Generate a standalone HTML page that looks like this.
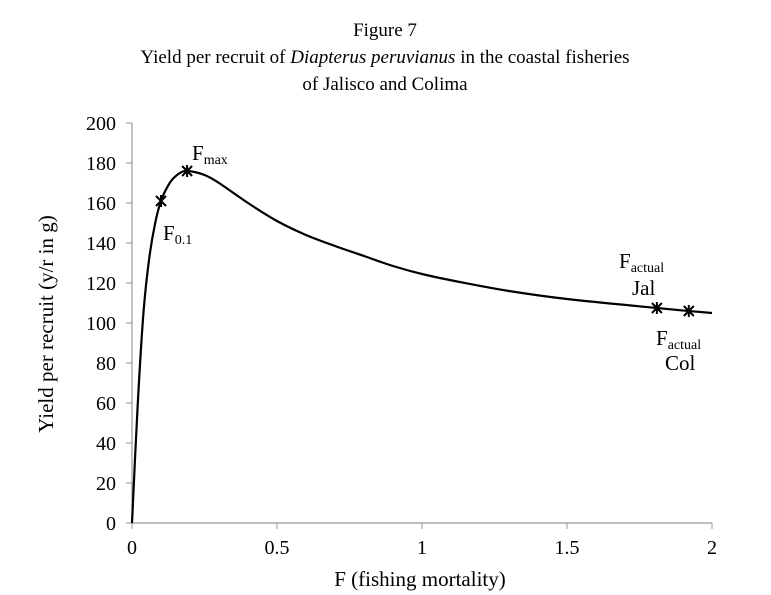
<!DOCTYPE html>
<html><head><meta charset="utf-8"><style>
body{margin:0;background:#fff;}
svg{display:block;font-family:"Liberation Serif",serif;}
</style></head><body>
<svg id="c" width="771" height="595">
<text x="385" y="36" text-anchor="middle" font-size="19">Figure 7</text>
<text x="385" y="63" text-anchor="middle" font-size="19">Yield per recruit of <tspan font-style="italic">Diapterus peruvianus</tspan> in the coastal fisheries</text>
<text x="385" y="90" text-anchor="middle" font-size="19">of Jalisco and Colima</text>
<g id="axes"></g>
<g id="series"></g>
<text x="420" y="586" text-anchor="middle" font-size="21">F (fishing mortality)</text>
<text transform="translate(53,324) rotate(-90)" text-anchor="middle" font-size="21">Yield per recruit (y/r in g)</text>
<text x="163" y="240" font-size="21">F<tspan font-size="14" dy="4">0.1</tspan></text>
<text x="192" y="160" font-size="21">F<tspan font-size="14" dy="4">max</tspan></text>
<text x="619" y="268" font-size="21">F<tspan font-size="14" dy="4">actual</tspan></text>
<text x="632" y="295" font-size="21">Jal</text>
<text x="656" y="345" font-size="21">F<tspan font-size="14" dy="4">actual</tspan></text>
<text x="665" y="370" font-size="21">Col</text>
</svg>
<script>
const xTicks=[0,0.5,1,1.5,2];
const xTickLabels=["0","0.5","1","1.5","2"];
const yTicks=[0,20,40,60,80,100,120,140,160,180,200];
const fValues=[0,0.02,0.04,0.06,0.08,0.1,0.13,0.16,0.19,0.25,0.3,0.4,0.5,0.6,0.7,0.8,0.9,1,1.13,1.3,1.5,1.81,1.92,2];
const yieldValues=[0,60,106,133,150,161,170,174.5,176,174,170,160,151,144,138.5,133.5,128.5,124.5,120.5,116,112,107.5,106,105];
const markerF=[0.1,0.19,1.81,1.92];
const markerY=[161,176,107.5,106];
const markerNames=["marker-f01","marker-fmax","marker-factual-jal","marker-factual-col"];
const NS="http://www.w3.org/2000/svg";
const X=v=>132+v*290;
const Y=v=>523-v*2;
function mk(t,a,p){const e=document.createElementNS(NS,t);for(const k in a)e.setAttribute(k,a[k]);p.appendChild(e);return e;}
const ax=document.getElementById('axes');
let e=mk('line',{x1:X(0),y1:Y(0),x2:X(2),y2:Y(0),stroke:'#999','stroke-width':1.2},ax);


e=mk('line',{x1:X(0),y1:Y(0),x2:X(0),y2:Y(200),stroke:'#999','stroke-width':1.2},ax);


xTicks.forEach((t,i)=>{
 mk('line',{x1:X(t),y1:Y(0),x2:X(t),y2:Y(0)+6,stroke:'#999'},ax);
 const tx=mk('text',{x:X(t),y:Y(0)+31,'text-anchor':'middle','font-size':20},ax);
 tx.textContent=xTickLabels[i];
 
 
});
yTicks.forEach(t=>{
 mk('line',{x1:X(0)-6,y1:Y(t),x2:X(0),y2:Y(t),stroke:'#999'},ax);
 const tx=mk('text',{x:X(0)-16,y:Y(t)+7,'text-anchor':'end','font-size':20},ax);
 tx.textContent=t;
 
 
});
const sg=document.getElementById('series');
const pts=fValues.map((f,i)=>[X(f),Y(yieldValues[i])]);
let d='M'+pts[0][0]+','+pts[0][1];
for(let i=0;i<pts.length-1;i++){
 const p0=pts[Math.max(i-1,0)],p1=pts[i],p2=pts[i+1],p3=pts[Math.min(i+2,pts.length-1)];
 const c1=[p1[0]+(p2[0]-p0[0])/6,p1[1]+(p2[1]-p0[1])/6];
 const c2=[p2[0]-(p3[0]-p1[0])/6,p2[1]-(p3[1]-p1[1])/6];
 d+=` C${c1[0]},${c1[1]} ${c2[0]},${c2[1]} ${p2[0]},${p2[1]}`;
}
e=mk('path',{d:d,fill:'none',stroke:'#000','stroke-width':2.2},sg);


markerF.forEach((f,i)=>{
 const cx=X(f),cy=Y(markerY[i]);
 const g=mk('g',{stroke:'#000','stroke-width':2},sg);
 
 
 mk('line',{x1:cx-5,y1:cy-5,x2:cx+5,y2:cy+5},g);
 mk('line',{x1:cx-5,y1:cy+5,x2:cx+5,y2:cy-5},g);
 mk('line',{x1:cx,y1:cy-6,x2:cx,y2:cy+6},g);
});
</script>
</body></html>
